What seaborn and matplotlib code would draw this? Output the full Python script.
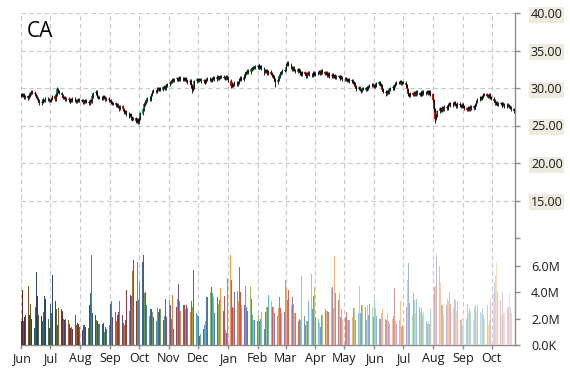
import pandas as pd
import seaborn as sns
import matplotlib.pyplot as plt
import matplotlib.dates as mdates
from matplotlib.ticker import FuncFormatter
from matplotlib.colors import to_rgb

# daily prices, one line per month (Jun 2015 .. Oct 2016)
close = [
    29.2, 29.0, 29.1, 28.8, 28.9, 28.7, 29.0, 29.3, 29.5, 29.4, 29.2, 28.9, 28.6, 28.4, 28.0, 28.2, 28.5, 28.3, 28.4, 28.6, 28.5, 28.4,
    28.3, 28.6, 28.9, 28.5, 29.2, 29.8, 29.6, 29.4, 29.0, 28.7, 28.8, 28.5, 28.6, 28.4, 28.2, 28.5, 28.3, 28.6, 28.4, 28.2, 28.3, 28.5, 28.4,
    28.3, 28.1, 28.2, 28.4, 28.2, 28.0, 28.3, 28.2, 28.9, 29.3, 29.5, 29.2, 28.9, 28.7, 28.8, 28.6, 28.9, 28.7, 28.5, 28.6, 28.4,
    28.3, 28.1, 27.9, 28.0, 27.7, 27.8, 27.5, 27.3, 27.6, 27.2, 27.0, 26.8, 26.9, 26.6, 26.3, 26.5, 26.1, 25.9, 26.0, 25.6, 25.8, 25.5,
    25.9, 26.6, 27.2, 27.8, 28.1, 28.4, 28.6, 28.5, 28.9, 29.1, 29.5, 29.7, 29.5, 29.9, 29.8, 30.0, 29.8, 30.1, 30.2, 30.0, 30.4, 30.5,
    30.7, 30.9, 31.1, 31.0, 31.2, 31.3, 31.1, 31.2, 31.4, 31.2, 31.3, 31.1, 31.3, 31.0, 30.8, 31.0, 30.4, 29.8, 30.1, 30.9, 31.2,
    31.0, 31.2, 31.1, 30.9, 31.0, 30.7, 30.9, 31.1, 31.3, 31.2, 31.0, 31.3, 31.4, 31.2, 31.5, 31.3, 31.4, 31.6, 31.5, 31.4, 31.3, 31.5, 31.4,
    31.0, 30.3, 30.6, 30.4, 30.5, 30.7, 30.5, 30.8, 31.2, 31.4, 31.1, 31.5, 31.9, 32.1, 32.3, 32.1, 32.5, 32.6, 32.8, 32.7, 32.9,
    32.8, 33.0, 32.7, 32.9, 32.6, 32.4, 32.2, 32.3, 32.0, 32.2, 31.9, 31.7, 31.5, 31.2, 30.8, 31.1, 31.6, 31.9, 32.1, 32.3, 32.4,
    32.8, 33.2, 33.4, 33.1, 32.8, 32.5, 32.7, 32.4, 32.2, 32.5, 32.3, 32.0, 31.8, 32.1, 31.9, 31.6, 31.9, 32.0, 31.8, 31.7, 31.9, 32.0, 31.8,
    31.9, 32.1, 32.2, 32.0, 32.3, 32.1, 31.9, 32.0, 31.7, 31.9, 31.6, 31.8, 31.5, 31.7, 31.4, 31.6, 31.5, 31.3, 31.6, 31.4, 31.2,
    31.3, 31.1, 31.0, 31.2, 30.9, 31.0, 30.8, 30.6, 30.2, 29.9, 30.1, 29.8, 29.7, 29.9, 30.0, 29.8, 30.1, 29.9, 30.2, 30.3, 30.5, 30.4,
    30.2, 30.4, 30.6, 30.8, 30.5, 30.3, 29.8, 29.5, 29.3, 29.6, 29.4, 29.8, 30.0, 30.2, 29.9, 30.3, 30.6, 30.8, 30.7, 30.9, 30.6, 30.8,
    30.7, 30.4, 29.8, 29.2, 29.0, 29.3, 29.1, 29.4, 29.2, 29.5, 29.3, 29.1, 29.4, 29.2, 29.5, 29.3, 29.4, 29.6, 29.3, 29.5, 29.2,
    28.4, 27.2, 25.9, 26.4, 26.9, 27.3, 27.0, 27.4, 27.2, 27.5, 27.3, 27.6, 27.8, 28.0, 27.7, 27.9, 28.1, 27.8, 27.6, 27.9, 27.7, 27.5, 27.8,
    27.6, 27.3, 27.1, 27.4, 27.2, 27.5, 27.3, 27.6, 27.4, 27.8, 28.2, 28.5, 28.8, 28.6, 28.9, 29.1, 29.2, 29.0, 28.9, 29.1, 28.8, 28.6,
    28.3, 28.0, 28.1, 27.8, 27.9, 28.0, 27.7, 27.9, 27.8, 27.6, 27.8, 27.7, 27.5, 27.4, 27.2, 26.9,
]
open_ = [
    29.0, 29.2, 29.0, 29.1, 28.8, 28.9, 28.7, 29.0, 29.3, 29.5, 29.4, 29.2, 28.9, 28.6, 28.4, 28.0, 28.2, 28.5, 28.3, 28.4, 28.6, 28.5,
    28.4, 28.3, 28.6, 28.9, 28.5, 29.2, 29.8, 29.6, 29.4, 29.0, 28.7, 28.8, 28.5, 28.6, 28.4, 28.2, 28.5, 28.3, 28.6, 28.4, 28.2, 28.3, 28.5,
    28.4, 28.3, 28.1, 28.2, 28.4, 28.2, 28.0, 28.3, 28.2, 28.9, 29.3, 29.5, 29.2, 28.9, 28.7, 28.8, 28.6, 28.9, 28.7, 28.5, 28.6,
    28.4, 28.3, 28.1, 27.9, 28.0, 27.7, 27.8, 27.5, 27.3, 27.6, 27.2, 27.0, 26.8, 26.9, 26.6, 26.3, 26.5, 26.1, 25.9, 26.0, 25.6, 25.8,
    25.5, 25.9, 26.6, 27.2, 27.8, 28.1, 28.4, 28.6, 28.5, 28.9, 29.1, 29.5, 29.7, 29.5, 29.9, 29.8, 30.0, 29.8, 30.1, 30.2, 30.0, 30.4,
    30.5, 30.7, 30.9, 31.1, 31.0, 31.2, 31.3, 31.1, 31.2, 31.4, 31.2, 31.3, 31.1, 31.3, 31.0, 30.8, 31.0, 30.4, 29.8, 30.1, 30.9,
    31.2, 31.0, 31.2, 31.1, 30.9, 31.0, 30.7, 30.9, 31.1, 31.3, 31.2, 31.0, 31.3, 31.4, 31.2, 31.5, 31.3, 31.4, 31.6, 31.5, 31.4, 31.3, 31.5,
    31.4, 31.0, 30.3, 30.6, 30.4, 30.5, 30.7, 30.5, 30.8, 31.2, 31.4, 31.1, 31.5, 31.9, 32.1, 32.3, 32.1, 32.5, 32.6, 32.8, 32.7,
    32.9, 32.8, 33.0, 32.7, 32.9, 32.6, 32.4, 32.2, 32.3, 32.0, 32.2, 31.9, 31.7, 31.5, 31.2, 30.8, 31.1, 31.6, 31.9, 32.1, 32.3,
    32.4, 32.8, 33.2, 33.4, 33.1, 32.8, 32.5, 32.7, 32.4, 32.2, 32.5, 32.3, 32.0, 31.8, 32.1, 31.9, 31.6, 31.9, 32.0, 31.8, 31.7, 31.9, 32.0,
    31.8, 31.9, 32.1, 32.2, 32.0, 32.3, 32.1, 31.9, 32.0, 31.7, 31.9, 31.6, 31.8, 31.5, 31.7, 31.4, 31.6, 31.5, 31.3, 31.6, 31.4,
    31.2, 31.3, 31.1, 31.0, 31.2, 30.9, 31.0, 30.8, 30.6, 30.2, 29.9, 30.1, 29.8, 29.7, 29.9, 30.0, 29.8, 30.1, 29.9, 30.2, 30.3, 30.5,
    30.4, 30.2, 30.4, 30.6, 30.8, 30.5, 30.3, 29.8, 29.5, 29.3, 29.6, 29.4, 29.8, 30.0, 30.2, 29.9, 30.3, 30.6, 30.8, 30.7, 30.9, 30.6,
    30.8, 30.7, 30.4, 29.8, 29.2, 29.0, 29.3, 29.1, 29.4, 29.2, 29.5, 29.3, 29.1, 29.4, 29.2, 29.5, 29.3, 29.4, 29.6, 29.3, 29.5,
    29.2, 28.4, 27.2, 25.9, 26.4, 26.9, 27.3, 27.0, 27.4, 27.2, 27.5, 27.3, 27.6, 27.8, 28.0, 27.7, 27.9, 28.1, 27.8, 27.6, 27.9, 27.7, 27.5,
    27.8, 27.6, 27.3, 27.1, 27.4, 27.2, 27.5, 27.3, 27.6, 27.4, 27.8, 28.2, 28.5, 28.8, 28.6, 28.9, 29.1, 29.2, 29.0, 28.9, 29.1, 28.8,
    28.6, 28.3, 28.0, 28.1, 27.8, 27.9, 28.0, 27.7, 27.9, 27.8, 27.6, 27.8, 27.7, 27.5, 27.4, 27.2,
]
high = [
    29.4, 29.4, 29.3, 29.3, 29.1, 29.1, 29.2, 29.5, 29.7, 29.7, 29.6, 29.4, 29.1, 28.8, 28.6, 28.4, 28.7, 28.7, 28.6, 28.8, 28.8, 28.7,
    28.6, 28.8, 29.1, 29.1, 29.4, 30.1, 30.0, 29.8, 29.5, 29.2, 29.0, 29.0, 28.8, 28.8, 28.6, 28.7, 28.7, 28.8, 28.8, 28.6, 28.5, 28.7, 28.7,
    28.6, 28.5, 28.4, 28.6, 28.6, 28.4, 28.5, 28.5, 29.2, 29.5, 29.8, 29.7, 29.4, 29.1, 29.0, 29.0, 29.1, 29.1, 28.9, 28.8, 28.8,
    28.6, 28.5, 28.3, 28.2, 28.2, 28.0, 28.0, 27.7, 27.8, 27.8, 27.4, 27.2, 27.1, 27.1, 26.8, 26.7, 26.7, 26.3, 26.2, 26.2, 26.0, 26.0,
    26.1, 26.8, 27.4, 28.0, 28.3, 28.6, 28.8, 28.8, 29.1, 29.3, 29.7, 29.9, 29.8, 30.1, 30.1, 30.2, 30.1, 30.3, 30.4, 30.3, 30.6, 30.7,
    30.9, 31.1, 31.3, 31.3, 31.4, 31.5, 31.5, 31.4, 31.6, 31.6, 31.5, 31.5, 31.5, 31.5, 31.2, 31.2, 31.2, 30.6, 30.3, 31.1, 31.4,
    31.4, 31.4, 31.4, 31.3, 31.2, 31.2, 31.1, 31.3, 31.5, 31.5, 31.4, 31.5, 31.6, 31.6, 31.7, 31.7, 31.6, 31.8, 31.8, 31.7, 31.6, 31.7, 31.7,
    31.6, 31.2, 30.8, 30.8, 30.7, 30.9, 30.9, 31.0, 31.4, 31.6, 31.6, 31.7, 32.1, 32.3, 32.5, 32.5, 32.7, 32.8, 33.0, 33.0, 33.1,
    33.1, 33.2, 33.2, 33.1, 33.1, 32.8, 32.6, 32.5, 32.5, 32.4, 32.4, 32.1, 31.9, 31.7, 31.4, 31.3, 31.8, 32.1, 32.3, 32.5, 32.6,
    33.0, 33.4, 33.6, 33.6, 33.3, 33.0, 32.9, 32.9, 32.6, 32.7, 32.7, 32.5, 32.2, 32.3, 32.3, 32.1, 32.1, 32.2, 32.2, 32.0, 32.1, 32.2, 32.2,
    32.1, 32.3, 32.4, 32.4, 32.5, 32.5, 32.3, 32.2, 32.2, 32.1, 32.1, 32.0, 32.0, 31.9, 31.9, 31.8, 31.8, 31.7, 31.8, 31.8, 31.6,
    31.5, 31.5, 31.3, 31.4, 31.4, 31.2, 31.2, 31.0, 30.8, 30.4, 30.3, 30.3, 30.0, 30.1, 30.2, 30.2, 30.3, 30.3, 30.4, 30.5, 30.7, 30.7,
    30.6, 30.6, 30.8, 31.0, 31.0, 30.7, 30.5, 30.0, 29.7, 29.8, 29.8, 30.0, 30.2, 30.4, 30.4, 30.5, 30.8, 31.0, 31.0, 31.1, 31.1, 31.0,
    31.0, 30.9, 30.6, 30.0, 29.4, 29.5, 29.5, 29.6, 29.6, 29.7, 29.7, 29.5, 29.6, 29.6, 29.7, 29.7, 29.6, 29.8, 29.8, 29.7, 29.7,
    29.4, 28.6, 27.4, 26.6, 27.1, 27.5, 27.5, 27.6, 27.6, 27.7, 27.7, 27.8, 28.0, 28.2, 28.2, 28.1, 28.3, 28.3, 28.0, 28.1, 28.1, 27.9, 28.0,
    28.0, 27.8, 27.5, 27.6, 27.6, 27.7, 27.7, 27.8, 27.8, 28.0, 28.4, 28.7, 29.0, 29.0, 29.1, 29.3, 29.4, 29.4, 29.2, 29.3, 29.3, 29.0,
    28.8, 28.5, 28.3, 28.3, 28.1, 28.1, 28.2, 28.1, 28.1, 28.0, 28.0, 28.0, 27.9, 27.7, 27.6, 27.4,
]
low = [
    28.8, 28.8, 28.8, 28.6, 28.6, 28.4, 28.5, 28.8, 29.1, 29.2, 29.0, 28.7, 28.4, 28.1, 27.8, 27.8, 28.0, 28.1, 28.1, 28.2, 28.3, 28.1,
    28.1, 28.1, 28.4, 28.3, 28.3, 29.0, 29.4, 29.2, 28.8, 28.5, 28.5, 28.3, 28.3, 28.2, 28.0, 28.0, 28.1, 28.1, 28.2, 28.0, 28.0, 28.1, 28.2,
    28.1, 27.9, 27.9, 28.0, 28.0, 27.8, 27.8, 28.0, 28.0, 28.7, 29.1, 29.0, 28.7, 28.5, 28.5, 28.4, 28.4, 28.5, 28.3, 28.3, 28.2,
    28.1, 27.9, 27.7, 27.7, 27.5, 27.5, 27.3, 27.0, 27.1, 27.0, 26.8, 26.5, 26.6, 26.3, 26.0, 26.1, 25.8, 25.6, 25.7, 25.3, 25.4, 25.2,
    25.2, 25.7, 26.4, 27.0, 27.6, 27.9, 28.2, 28.3, 28.3, 28.7, 28.9, 29.3, 29.3, 29.3, 29.6, 29.6, 29.6, 29.6, 29.9, 29.8, 29.8, 30.2,
    30.3, 30.5, 30.7, 30.8, 30.8, 31.0, 30.9, 30.9, 31.0, 31.0, 31.0, 30.9, 30.9, 30.8, 30.6, 30.6, 30.2, 29.4, 29.6, 29.9, 30.7,
    30.8, 30.8, 30.9, 30.7, 30.7, 30.5, 30.5, 30.7, 30.9, 31.0, 30.8, 30.8, 31.1, 31.0, 31.0, 31.1, 31.1, 31.2, 31.3, 31.2, 31.1, 31.1, 31.2,
    30.8, 30.0, 30.1, 30.2, 30.2, 30.3, 30.3, 30.3, 30.6, 31.0, 30.9, 30.9, 31.3, 31.7, 31.9, 31.9, 31.9, 32.3, 32.4, 32.5, 32.5,
    32.6, 32.6, 32.5, 32.5, 32.4, 31.8, 32.0, 32.0, 31.8, 31.8, 31.7, 31.5, 31.3, 31.0, 30.2, 30.6, 30.9, 31.4, 31.7, 31.9, 32.1,
    32.2, 32.6, 33.0, 32.9, 32.6, 32.3, 32.3, 32.2, 32.0, 32.0, 32.1, 31.8, 31.6, 31.6, 31.7, 31.4, 31.4, 31.7, 31.6, 31.5, 31.5, 31.7, 31.6,
    31.6, 31.7, 31.9, 31.8, 31.8, 31.9, 31.7, 31.7, 31.5, 31.5, 31.4, 31.4, 31.3, 31.3, 31.2, 31.2, 31.3, 31.1, 31.1, 31.2, 30.9,
    31.0, 30.9, 30.8, 30.8, 30.7, 30.7, 30.6, 30.4, 30.0, 29.6, 29.7, 29.6, 29.4, 29.5, 29.7, 29.6, 29.6, 29.7, 29.7, 30.0, 30.1, 30.2,
    30.0, 30.0, 30.2, 30.4, 30.3, 30.1, 29.6, 29.3, 29.0, 29.1, 29.2, 29.2, 29.6, 29.8, 29.7, 29.7, 30.1, 30.4, 30.5, 30.5, 30.4, 30.4,
    30.5, 30.2, 29.6, 29.0, 28.8, 28.8, 28.9, 28.9, 29.0, 29.0, 29.1, 28.9, 28.9, 29.0, 29.0, 29.1, 29.1, 29.2, 29.1, 29.1, 29.0,
    28.2, 27.0, 25.3, 25.7, 26.2, 26.7, 26.8, 26.8, 27.0, 27.0, 27.1, 27.1, 27.4, 27.6, 27.5, 27.5, 27.7, 27.6, 27.4, 27.4, 27.5, 27.3, 27.3,
    27.4, 27.1, 26.9, 26.9, 27.0, 27.0, 27.1, 27.1, 27.2, 27.2, 27.6, 28.0, 28.3, 28.4, 28.4, 28.7, 28.9, 28.8, 28.7, 28.7, 28.6, 28.4,
    28.1, 27.8, 27.8, 27.6, 27.6, 27.7, 27.5, 27.5, 27.6, 27.4, 27.4, 27.5, 27.3, 27.2, 27.0, 26.7,
]
# daily volume, millions of shares
volume = [
    1.8, 4.2, 1.8, 2.1, 2.3, 4.5, 2.3, 3.5, 3.1, 2.0, 1.3, 2.9, 5.5, 3.7, 2.3, 2.2, 1.8, 2.5, 3.7, 3.5, 2.0, 1.3,
    3.1, 2.4, 5.3, 3.3, 2.7, 2.7, 1.5, 2.8, 2.7, 2.6, 2.0, 1.9, 2.0, 1.9, 1.6, 1.3, 1.4, 1.2, 2.3, 1.5, 1.7, 1.6, 1.4,
    1.1, 1.5, 1.2, 1.5, 1.4, 1.3, 3.0, 3.9, 6.8, 2.4, 2.3, 1.9, 1.8, 1.6, 1.6, 1.6, 1.7, 1.0, 1.4, 1.2, 1.5,
    3.1, 1.9, 3.3, 2.1, 2.5, 1.8, 2.3, 2.5, 3.3, 2.3, 1.7, 1.5, 1.9, 4.2, 2.6, 3.8, 3.7, 5.6, 6.4, 3.3, 6.3, 6.5,
    3.4, 4.8, 6.3, 6.8, 3.9, 4.0, 3.0, 2.2, 2.7, 2.7, 2.5, 2.1, 1.8, 2.8, 2.5, 2.7, 2.7, 1.9, 2.2, 2.5, 3.5, 2.1,
    3.4, 3.0, 2.0, 3.8, 1.2, 2.9, 3.5, 4.6, 3.3, 2.6, 3.0, 3.0, 2.7, 3.0, 2.8, 2.5, 3.3, 3.3, 2.9, 5.7, 2.4,
    2.3, 2.2, 0.7, 0.8, 1.2, 1.5, 1.8, 3.6, 3.6, 4.0, 4.4, 3.9, 3.6, 2.4, 3.6, 3.1, 2.9, 3.4, 4.3, 2.6, 3.7, 1.1, 0.9,
    5.1, 6.8, 4.9, 2.9, 2.8, 4.0, 4.1, 3.3, 5.9, 4.0, 3.0, 3.0, 4.5, 3.4, 2.9, 2.6, 4.5, 3.5, 2.3, 1.9, 1.9,
    1.8, 2.3, 1.8, 2.0, 2.5, 1.2, 2.5, 2.9, 2.9, 3.8, 3.3, 2.9, 2.9, 2.9, 2.4, 2.2, 2.8, 3.6, 2.8, 2.4, 2.5,
    4.9, 4.3, 3.4, 4.2, 3.0, 3.6, 3.1, 2.4, 2.4, 1.8, 1.9, 2.0, 1.9, 5.2, 2.2, 1.5, 1.8, 1.8, 3.3, 5.4, 2.7, 3.7, 4.4,
    2.1, 2.0, 1.7, 1.4, 2.3, 2.3, 2.7, 1.5, 2.6, 2.6, 2.5, 4.3, 4.4, 2.8, 6.7, 3.9, 3.4, 3.9, 2.1, 2.7, 2.0,
    2.1, 2.5, 1.9, 1.9, 1.9, 2.1, 2.7, 2.8, 2.8, 1.9, 2.4, 4.5, 2.4, 3.0, 3.0, 2.9, 1.9, 3.0, 2.3, 3.1, 2.9, 2.1,
    3.4, 2.8, 2.2, 2.0, 2.6, 2.0, 2.4, 2.7, 2.0, 1.9, 2.4, 1.8, 1.6, 2.0, 2.2, 4.3, 1.8, 1.6, 1.9, 3.3, 1.4, 1.5,
    1.4, 2.9, 3.4, 4.9, 6.2, 3.2, 2.3, 3.9, 3.4, 2.4, 3.5, 2.9, 2.5, 2.8, 2.3, 2.5, 1.8, 1.6, 1.8, 1.6, 2.7,
    3.5, 2.7, 4.4, 4.5, 6.8, 6.0, 4.7, 3.0, 3.0, 2.3, 3.0, 3.5, 3.3, 4.0, 3.1, 2.8, 3.5, 3.4, 2.6, 3.3, 1.9, 2.0, 2.0,
    1.5, 1.9, 2.0, 3.1, 2.4, 2.8, 2.6, 1.9, 2.9, 3.0, 2.5, 3.0, 2.5, 2.4, 2.8, 2.3, 2.0, 3.0, 1.3, 1.5, 1.9, 3.5,
    3.9, 4.7, 5.2, 6.3, 4.1, 3.4, 2.3, 4.0, 2.4, 2.4, 2.9, 2.9, 3.9, 2.9, 2.4, 1.9,
]
price_ticks = [10, 15, 20, 25, 30, 35, 40]
volume_ticks = [0, 2e6, 4e6, 6e6]
symbol = "CA"

df = pd.DataFrame({
    "date": pd.bdate_range("2015-06-01", periods=len(close)),
    "open": open_, "high": high, "low": low, "close": close,
    "volume": [v * 1e6 for v in volume],
})

sns.set_style("whitegrid")
plt.rcParams["font.family"] = ["Open Sans", "DejaVu Sans"]

# office-like palette, shaded from dark to pale over time
base = sns.color_palette(["#4F81BD", "#C0504D", "#9BBB59", "#8064A2", "#4BACC6", "#F79646"])
n = len(df)
vol_colors = []
for i in range(n):
    r, g, b = to_rgb(base[i % len(base)])
    f = -0.5 + 1.2 * i / (n - 1)
    if f < 0:
        vol_colors.append((r * (1 + f), g * (1 + f), b * (1 + f)))
    else:
        vol_colors.append((r + (1 - r) * f, g + (1 - g) * f, b + (1 - b) * f))

fig = plt.figure(figsize=(5.7, 3.7), dpi=100)
ax = fig.add_axes([21 / 570, 1 - 238 / 370, 494 / 570, 225 / 370])
axv = fig.add_axes([21 / 570, 1 - 345 / 370, 494 / 570, 107 / 370], sharex=ax)

grid_kw = dict(color="#c8c8c8", linestyle=(0, (4, 3)), linewidth=0.8)
spine_col = "#8c8c8c"
text_col = "#1a1a1a"

# candles
up = df["close"] >= df["open"]
for mask, col in [(up, "#00b050"), (~up, "#ff0000")]:
    d = df[mask]
    ax.bar(d["date"], d["close"] - d["open"], bottom=d["open"], width=1.4,
           color=col, linewidth=0, zorder=3)
ax.vlines(df["date"], df["low"], df["high"], color="black", linewidth=0.6, zorder=4)

ax.set_ylim(10, 40)
ax.set_yticks(price_ticks)
ax.yaxis.set_major_formatter(FuncFormatter(lambda v, p: f"{v:.2f}"))
ax.yaxis.tick_right()
ax.tick_params(axis="y", which="both", right=True, left=False, length=3.5, color=spine_col,
               width=1, labelsize=9, labelcolor=text_col, pad=8)
ax.tick_params(axis="x", bottom=False, labelbottom=False)
ax.grid(True, **grid_kw)
for sp in ["left", "top", "bottom"]:
    ax.spines[sp].set_visible(False)
ax.spines["right"].set_color(spine_col)
ax.spines["right"].set_linewidth(1)
for t in ax.yaxis.get_major_ticks():
    t.label2.set_bbox(dict(boxstyle="square,pad=0.12", fc="#eeebdf", ec="none"))
ax.yaxis.get_major_ticks()[0].label2.set_visible(False)
ax.text(0.012, 0.893, symbol, transform=ax.transAxes, fontsize=15, color="black", va="baseline")

# volume
axv.bar(df["date"], df["volume"], width=1.0, color=vol_colors, linewidth=0, zorder=3)
axv.set_ylim(0, 8.1e6)
axv.set_yticks(volume_ticks)
axv.yaxis.set_major_formatter(FuncFormatter(lambda v, p: "0.0K" if v == 0 else f"{v / 1e6:.1f}M"))
axv.yaxis.tick_right()
axv.tick_params(axis="y", right=True, left=False, length=3.5, color=spine_col, width=1,
                labelsize=9, labelcolor=text_col, pad=8)
axv.xaxis.set_major_locator(mdates.MonthLocator())
axv.xaxis.set_major_formatter(mdates.DateFormatter("%b"))
axv.tick_params(axis="x", bottom=True, length=3, color=spine_col, width=1,
                labelsize=9, labelcolor=text_col, pad=2)
axv.grid(False)
axv.xaxis.grid(True, **grid_kw)
for sp in ["left", "top"]:
    axv.spines[sp].set_visible(False)
for sp in ["right", "bottom"]:
    axv.spines[sp].set_color(spine_col)
    axv.spines[sp].set_linewidth(1)

ax.set_xlim(pd.Timestamp("2015-06-01") - pd.Timedelta(hours=8), pd.Timestamp("2016-10-25"))

fig.savefig("out.png", dpi=100, facecolor="white")
